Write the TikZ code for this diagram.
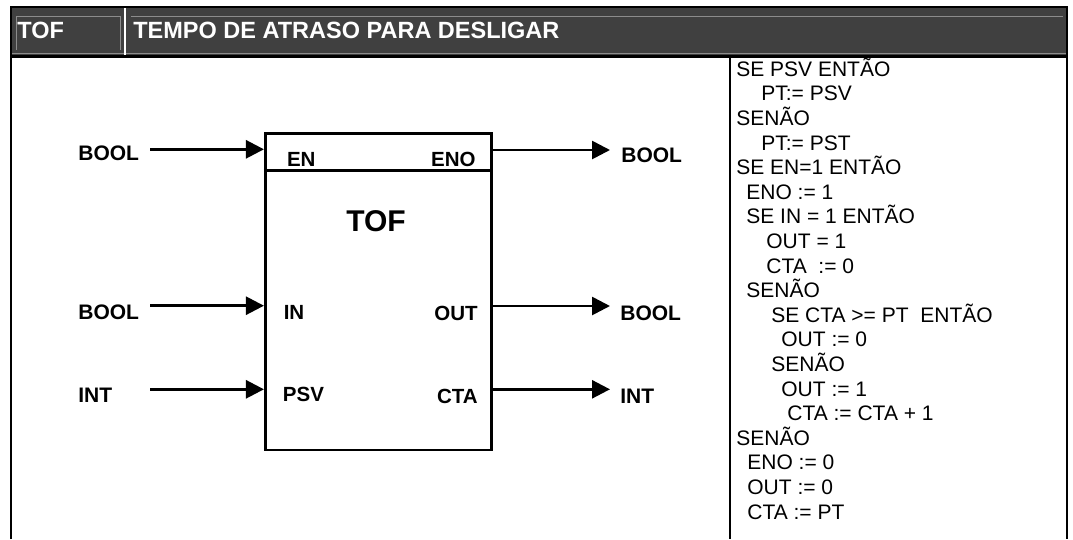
\documentclass[tikz,border=0pt]{standalone}
\usepackage{fontspec}
\setmainfont{Liberation Sans}
\usepackage{xcolor}
\usetikzlibrary{arrows.meta,positioning}
\definecolor{headgray}{HTML}{404040}
\definecolor{rulegray}{HTML}{8C8C8C}
\tikzset{
  every picture/.style = {
    x = 1pt,
    y = -1pt,
    line width = 2.7pt,
  }
  ,
  wire/.style = {
    -{Triangle[length=18pt,width=18pt]},
    line width = 2.7pt
  }
  ,
  block/.style = {
    rectangle,
    draw,
    line width = 2.7pt,
    inner sep = 0pt,
    minimum width = 226.4pt,
    minimum height = 316.7pt
  }
  , % labels of the header
  label-head/.style = {
    font = \fontsize{23.5}{28}\selectfont\bfseries,
    text = white,
    inner sep = 0pt,
    anchor = base west
  }
  , % labels of data types
  label-type/.style = {
    font = \fontsize{21}{25}\selectfont\bfseries,
    inner sep = 0pt,
    anchor = base west
  }
  , % labels of ports
  label-port/.style = {
    font = \fontsize{20.5}{25}\selectfont\bfseries,
    inner sep = 0pt
  }
  , % listing on the right (base = last line)
  listing/.style = {
    font = \fontsize{21}{24.6}\selectfont,
    align = left,
    inner sep = 0pt,
    anchor = base west
  }
}

\begin{document}
\begin{tikzpicture}
\useasboundingbox (0,0) rectangle (1073,539);

% header
\fill[headgray] (11,7) rectangle (1067,55);
\draw[rulegray, line width=0.8pt] (16,50) -- (16,16.7) -- (120,16.7) -- (120,50);
\draw[rulegray, line width=0.8pt] (131,16.7) -- (1063,16.7);
\draw[rulegray, line width=1pt] (11,53) -- (1067,53);
\draw[white, line width=2pt] (125,7) -- (125,55);
\node[label-head] (h-id) at (16,38) {TOF};
\node[label-head] (h-title) at (132,38) {TEMPO DE ATRASO PARA DESLIGAR};

% frame
\draw[line width=2pt] (11,539) -- (11,6.7) -- (1067,6.7) -- (1067,539);
\draw[line width=2.5pt] (11,56.5) -- (1067,56.5);
\draw[line width=2pt] (730,56.5) -- (730,539);

% block
\node[block] (tof) at (378.5,291.7) {};
\coordinate (sep) at (0,170.7);
\draw (tof.west |- sep) -- (tof.east |- sep);
\node[font=\fontsize{30}{34}\selectfont\bfseries, inner sep=0pt, anchor=base] (tof-name) at (376,231.5) {TOF};

\node[label-port, anchor=base west] (p-en) at (285.7,166) {EN};
\node[label-port, anchor=base east] (p-eno) at (477,166) {ENO};
\node[label-port, anchor=base west] (p-in) at (282.4,319) {IN};
\node[label-port, anchor=base east] (p-out) at (479,320) {OUT};
\node[label-port, anchor=base west] (p-psv) at (281.6,401) {PSV};
\node[label-port, anchor=base east] (p-cta) at (479,403) {CTA};

% inputs
\node[label-type] (t-en) at (77,160) {BOOL};
\node[label-type] (t-in) at (77,319) {BOOL};
\node[label-type] (t-psv) at (77,402) {INT};
\coordinate (w-en) at (150,149.3);
\coordinate (w-in) at (150,305.7);
\coordinate (w-psv) at (150,389.3);
\draw[wire] (w-en) -- (tof.west |- w-en);
\draw[wire] (w-in) -- (tof.west |- w-in);
\draw[wire] (w-psv) -- (tof.west |- w-psv);

% outputs
\node[label-type] (t-eno) at (620,162.5) {BOOL};
\node[label-type] (t-out) at (619,320) {BOOL};
\node[label-type] (t-cta) at (619,403) {INT};
\coordinate (w-eno) at (610,150);
\coordinate (w-out) at (610,306);
\coordinate (w-cta) at (610,389.3);
\draw[wire] (tof.east |- w-eno) -- (w-eno);
\draw[wire] (tof.east |- w-out) -- (w-out);
\draw[wire] (tof.east |- w-cta) -- (w-cta);

% listing
\node[listing] (code) at (735,519) {SE PSV ENTÃO\\
\hspace*{25pt}PT:= PSV\\
SENÃO\\
\hspace*{25pt}PT:= PST\\
SE EN=1 ENTÃO\\
\hspace*{10pt}ENO := 1\\
\hspace*{10pt}SE IN = 1 ENTÃO\\
\hspace*{30pt}OUT = 1\\
\hspace*{30pt}CTA\ \ := 0\\
\hspace*{10pt}SENÃO\\
\hspace*{35pt}SE CTA >= PT\ \ ENTÃO\\
\hspace*{45pt}OUT := 0\\
\hspace*{35pt}SENÃO\\
\hspace*{45pt}OUT := 1\\
\hspace*{51pt}CTA := CTA + 1\\
SENÃO\\
\hspace*{11pt}ENO := 0\\
\hspace*{11pt}OUT := 0\\
\hspace*{11pt}CTA := PT};
\end{tikzpicture}
\end{document}
